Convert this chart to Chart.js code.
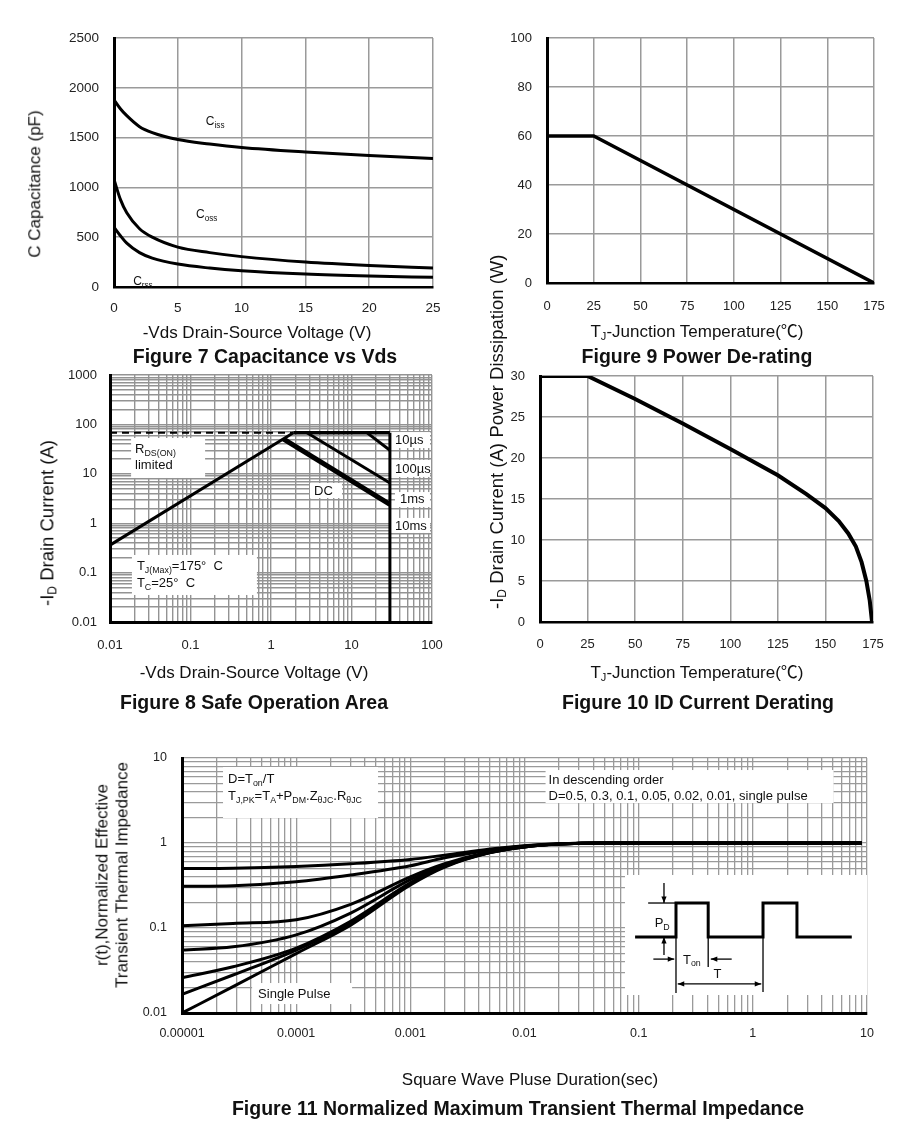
<!DOCTYPE html>
<html>
<head>
<meta charset="utf-8">
<script src="https://cdn.jsdelivr.net/npm/chart.js@4.4.1/dist/chart.umd.min.js"></script>
<style>
  body { margin: 0; background: #fff; }
  #page { position: relative; width: 904px; height: 1130px; overflow: hidden; background: #fff;
          font-family: "Liberation Sans", Arial, "Noto Sans CJK SC", sans-serif; color: #111; }
  canvas { position: absolute; }
  .t { position: absolute; white-space: nowrap; font-size: 17px; line-height: 1.15; transform: translate(-50%, -50%); }
  .v { transform: translate(-50%, -50%) rotate(-90deg); text-align: center; }
  .big { font-size: 18.5px; }
  .cap { font-weight: bold; font-size: 19.5px; }
  sub { font-size: 0.65em; vertical-align: -0.25em; line-height: 0; }
</style>
</head>
<body>
<div id="page"></div>
<script>
// ---- data: Figure 7 capacitance ----
const vds = [0, 0.5, 1, 2, 3, 5, 7.5, 10, 15, 20, 25];
const ciss = [1880, 1790, 1720, 1610, 1550, 1480, 1435, 1400, 1355, 1320, 1290];
const coss = [1080, 880, 745, 585, 500, 400, 345, 305, 250, 215, 190];
const crss = [600, 515, 440, 345, 290, 230, 190, 163, 130, 110, 97];

// ---- Figure 9 power de-rating ----
const tcPower = [0, 25, 175];
const pdPower = [60, 60, 0];

// ---- Figure 10 current de-rating ----
const tcCurrent = [0, 25, 50, 75, 100, 125, 140, 150, 157, 162, 166, 169, 171.5, 173.3, 174.5];
const idCurrent = [30, 30, 27.2, 24.2, 21.1, 17.9, 15.6, 13.9, 12.3, 10.8, 9.2, 7.3, 5.0, 2.6, 0];

// ---- Figure 8 safe operating area ----
const rdsV = [0.01, 1.9];
const rdsI = [0.36, 68];
const limitV = [0.01, 1.9];
const limitI = [68, 68];
const topV = [1.9, 30];
const topI = [68, 68];
const us10V = [15.5, 30];
const us10I = [68, 30];
const us100V = [2.8, 30];
const us100I = [68, 6.5];
const dcV = [1.42, 30];
const dcI = [51, 2.4];
const vmaxV = [30, 30];
const vmaxI = [0.01, 68];
const soaXLabels = ['0.01', '0.1', '1', '10', '100'];
const soaYLabels = ['0.01', '0.1', '1', '10', '100', '1000'];

// ---- Figure 11 transient thermal impedance ----
const pulseTime = [1e-5, 2.8e-5, 1e-4, 3e-4, 1e-3, 2e-3, 5e-3, 0.01, 0.02, 0.05, 9];
const zD50 = [0.50, 0.505, 0.53, 0.57, 0.64, 0.72, 0.85, 0.93, 0.98, 1.0, 1.0];
const zD30 = [0.31, 0.315, 0.35, 0.42, 0.54, 0.67, 0.82, 0.92, 0.98, 1.0, 1.0];
const zD10 = [0.106, 0.113, 0.125, 0.19, 0.40, 0.57, 0.79, 0.91, 0.97, 1.0, 1.0];
const zD05 = [0.055, 0.06, 0.083, 0.15, 0.37, 0.55, 0.78, 0.91, 0.97, 1.0, 1.0];
const zD02 = [0.026, 0.035, 0.058, 0.12, 0.34, 0.54, 0.78, 0.90, 0.97, 1.0, 1.0];
const zD01 = [0.0166, 0.028, 0.055, 0.114, 0.33, 0.53, 0.77, 0.90, 0.97, 1.0, 1.0];
const zSingle = [0.0100, 0.0204, 0.05, 0.108, 0.32, 0.52, 0.77, 0.90, 0.97, 1.0, 1.0];
const zthXLabels = ['0.00001', '0.0001', '0.001', '0.01', '0.1', '1', '10'];
const zthYLabels = ['0.01', '0.1', '1', '10'];

// inset waveform (time in periods, level in PD)
const waveT = [-0.47, 0, 0.37, 1, 1.39, 2.02];
const waveP = [0, 1, 0, 1, 0, 0];

const page = document.getElementById('page');
const FONT = '"Liberation Sans", Arial, sans-serif';
Chart.defaults.font.family = FONT;
Chart.defaults.color = '#222';

function makeCanvas(box) {
  const c = document.createElement('canvas');
  c.width = box[2]; c.height = box[3];
  c.style.left = box[0] + 'px'; c.style.top = box[1] + 'px';
  c.style.width = box[2] + 'px'; c.style.height = box[3] + 'px';
  page.appendChild(c);
  return c;
}

function text(html, x, y, cls) {
  const d = document.createElement('div');
  d.className = 't ' + (cls || '');
  d.style.left = x + 'px'; d.style.top = y + 'px';
  d.innerHTML = html;
  page.appendChild(d);
}

function decadeTicks(minExp, maxExp) {
  const t = [];
  for (let e = minExp; e < maxExp; e++)
    for (let m = 1; m < 10; m++) t.push({ value: parseFloat((m * Math.pow(10, e)).toPrecision(6)) });
  t.push({ value: parseFloat(Math.pow(10, maxExp).toPrecision(6)) });
  return t;
}

function axis(o) {
  const a = {
    type: o.type || 'linear', min: o.min, max: o.max,
    ticks: { padding: o.pad, font: { size: o.font || 13 }, color: '#222', autoSkip: false,
             maxRotation: 0, minRotation: 0, callback: v => v },
    grid: { color: o.grid || '#9a9a9a', lineWidth: o.gw || 1.5, drawTicks: false },
    border: { color: '#000', width: o.bw || 3 },
    afterFit: s => {
      if (s.isHorizontal()) s.height = o.size; else s.width = o.size;
      // the plot area is set by the layout padding, not by label overhang
      s.paddingLeft = s.paddingRight = s.paddingTop = s.paddingBottom = 0;
    }
  };
  if (o.step) a.ticks.stepSize = o.step;
  if (a.type === 'logarithmic') {
    a.afterBuildTicks = s => { s.ticks = decadeTicks(o.minExp, o.maxExp); };
    a.ticks.callback = v => {
      const e = Math.log10(v), r = Math.round(e);
      return Math.abs(e - r) < 1e-9 ? o.labels[r - o.minExp] : '';
    };
  }
  return a;
}

function series(xs, ys, w, extra) {
  return Object.assign({
    data: xs.map((x, i) => ({ x, y: ys[i] })),
    borderColor: '#000', borderWidth: w, pointRadius: 0, fill: false, tension: 0
  }, extra || {});
}

function drawParts(ctx, x, y, parts, size) {
  let cx = x;
  parts.forEach((t, i) => {
    const sub = i % 2 === 1;
    ctx.font = (sub ? size * 0.68 : size) + 'px ' + FONT;
    ctx.fillText(t, cx, sub ? y + size * 0.22 : y);
    cx += ctx.measureText(t).width;
  });
}

// text notes in data coordinates, optional white box (px offsets from anchor)
function notes(items) {
  const at = (chart, it) => [chart.scales.x.getPixelForValue(it.x), chart.scales.y.getPixelForValue(it.y)];
  return {
    id: 'notes',
    beforeDatasetsDraw(chart) {
      const ctx = chart.ctx;
      items.forEach(it => {
        if (!it.box) return;
        const [px, py] = at(chart, it);
        ctx.save();
        ctx.fillStyle = '#fff';
        ctx.fillRect(px + it.box[0], py + it.box[1], it.box[2] - it.box[0], it.box[3] - it.box[1]);
        ctx.restore();
      });
    },
    afterDatasetsDraw(chart) {
      const ctx = chart.ctx;
      items.forEach(it => {
        const [px, py] = at(chart, it);
        const size = it.size || 13;
        ctx.save();
        ctx.fillStyle = '#111';
        ctx.textBaseline = 'alphabetic';
        it.lines.forEach((parts, k) => drawParts(ctx, px, py + k * (it.lead || size * 1.3), parts, size));
        ctx.restore();
      });
    }
  };
}

function plot(box, area, datasets, xo, yo, extra) {
  xo.size = box[1] + box[3] - area[3];
  yo.size = area[0] - box[0];
  return new Chart(makeCanvas(box), {
    type: 'line',
    data: { datasets },
    options: {
      responsive: false, animation: false,
      layout: { padding: { left: 0, top: area[1] - box[1], right: box[0] + box[2] - area[2], bottom: 0 } },
      plugins: { legend: { display: false }, tooltip: { enabled: false } },
      scales: { x: axis(xo), y: axis(yo) }
    },
    plugins: extra || []
  });
}

// ---- Figure 7 ----
plot([0, 0, 450, 370], [114, 38, 433, 287],
  [series(vds, ciss, 3, { tension: 0.4, cubicInterpolationMode: 'monotone' }),
   series(vds, coss, 3, { tension: 0.4, cubicInterpolationMode: 'monotone' }),
   series(vds, crss, 3, { tension: 0.4, cubicInterpolationMode: 'monotone' })],
  { min: 0, max: 25, step: 5, pad: 13, font: 13.5, bw: 2.5 },
  { min: 0, max: 2500, step: 500, pad: 15, font: 13.5, bw: 3 },
  [notes([
    { x: 7.2, y: 1627, lines: [['C', 'iss']], size: 12 },
    { x: 6.43, y: 692, lines: [['C', 'oss']], size: 12 },
    { x: 1.5, y: 20, lines: [['C', 'rss']], size: 12 }
  ])]);

// ---- Figure 9 ----
plot([450, 0, 454, 370], [547, 38, 874, 283],
  [series(tcPower, pdPower, 3.5)],
  { min: 0, max: 175, step: 25, pad: 16, bw: 2.5 },
  { min: 0, max: 100, step: 20, pad: 15, bw: 3 });

// ---- Figure 8 ----
plot([0, 360, 450, 360], [110, 375, 432, 622],
  [series(limitV, limitI, 2, { borderDash: [7, 5] }),
   series(rdsV, rdsI, 3),
   series(topV, topI, 3.5),
   series(us10V, us10I, 3),
   series(us100V, us100I, 3),
   series(dcV, dcI, 5),
   series(vmaxV, vmaxI, 3)],
  { type: 'logarithmic', min: 0.01, max: 100, minExp: -2, maxExp: 2, labels: soaXLabels,
    pad: 16, grid: '#939393', gw: 1.4, bw: 3 },
  { type: 'logarithmic', min: 0.01, max: 1000, minExp: -2, maxExp: 3, labels: soaYLabels,
    pad: 13, grid: '#939393', gw: 1.4, bw: 3 },
  [notes([
    { x: 0.0205, y: 26.4, lines: [['R', 'DS(ON)'], ['limited']], lead: 16, box: [-4, -15, 70, 25] },
    { x: 34.7, y: 40, lines: [['10µs']], box: [-5, -12, 35, 4] },
    { x: 34.7, y: 10.4, lines: [['100µs']], box: [-5, -13, 35, 4] },
    { x: 40, y: 2.56, lines: [['1ms']], box: [-5, -11, 30, 4] },
    { x: 34.7, y: 0.73, lines: [['10ms']], box: [-5, -12, 35, 3] },
    { x: 3.42, y: 3.72, lines: [['DC']], box: [-4, -12, 28, 3] },
    { x: 0.0216, y: 0.113, lines: [['T', 'J(Max)', '=175°  C'], ['T', 'C', '=25°  C']], lead: 17,
      box: [-5, -15, 120, 25] }
  ])]);

// ---- Figure 10 ----
plot([450, 360, 454, 360], [540, 376, 873, 622],
  [series(tcCurrent, idCurrent, 4)],
  { min: 0, max: 175, step: 25, pad: 15, bw: 2.5 },
  { min: 0, max: 30, step: 5, pad: 15, bw: 3 });

// ---- Figure 11 ----
const curve = { tension: 0.4, cubicInterpolationMode: 'monotone' };
plot([0, 740, 904, 390], [182, 758, 867, 1013],
  [series(pulseTime, zD50, 3, curve), series(pulseTime, zD30, 3, curve),
   series(pulseTime, zD10, 3, curve), series(pulseTime, zD05, 3, curve),
   series(pulseTime, zD02, 3, curve), series(pulseTime, zD01, 3, curve),
   series(pulseTime, zSingle, 3, curve)],
  { type: 'logarithmic', min: 1e-5, max: 10, minExp: -5, maxExp: 1, labels: zthXLabels,
    pad: 13, font: 12.5, grid: '#9a9a9a', gw: 1.3, bw: 3 },
  { type: 'logarithmic', min: 0.01, max: 10, minExp: -2, maxExp: 1, labels: zthYLabels,
    pad: 15, font: 12.5, grid: '#9a9a9a', gw: 1.3, bw: 3 },
  [notes([
    { x: 2.53e-5, y: 5.08, lines: [['D=T', 'on', '/T'], ['T', 'J,PK', '=T', 'A', '+P', 'DM', '.Z', 'θJC', '.R', 'θJC']],
      lead: 17, box: [-5, -16, 150, 35] },
    { x: 0.01625, y: 4.94, lines: [['In descending order'], ['D=0.5, 0.3, 0.1, 0.05, 0.02, 0.01, single pulse']],
      lead: 16, box: [-3, -14, 285, 19] },
    { x: 4.64e-5, y: 0.015, lines: [['Single Pulse']], box: [-6, -15, 94, 6] }
  ])]);

// ---- Figure 11 inset: pulse train sketch ----
const insetMarks = {
  id: 'insetMarks',
  afterDatasetsDraw(chart) {
    const ctx = chart.ctx, sx = chart.scales.x, sy = chart.scales.y;
    const X = v => sx.getPixelForValue(v), Y = v => sy.getPixelForValue(v);
    const tip = (x, y, a) => {
      ctx.beginPath(); ctx.moveTo(x, y);
      ctx.lineTo(x - 7 * Math.cos(a - 0.38), y - 7 * Math.sin(a - 0.38));
      ctx.lineTo(x - 7 * Math.cos(a + 0.38), y - 7 * Math.sin(a + 0.38));
      ctx.closePath(); ctx.fill();
    };
    const seg = (t0, l0, t1, l1, head) => {
      const x0 = X(t0), y0 = Y(l0), x1 = X(t1), y1 = Y(l1);
      ctx.beginPath(); ctx.moveTo(x0, y0); ctx.lineTo(x1, y1); ctx.stroke();
      const a = Math.atan2(y1 - y0, x1 - x0);
      if (head) tip(x1, y1, a);
      if (head === 2) tip(x0, y0, a + Math.PI);
    };
    ctx.save();
    ctx.strokeStyle = '#000'; ctx.fillStyle = '#000'; ctx.lineWidth = 1.3;
    seg(-0.32, 1, 0, 1, 0);
    seg(-0.138, 1.59, -0.138, 1.0, 1);
    seg(-0.138, -0.53, -0.138, 0, 1);
    seg(-0.26, -0.65, -0.02, -0.65, 1);
    seg(0.64, -0.65, 0.40, -0.65, 1);
    seg(0, 0, 0, -1.65, 0);
    seg(0.37, 0, 0.37, -0.88, 0);
    seg(1, 0, 1, -1.62, 0);
    seg(0.02, -1.38, 0.98, -1.38, 2);
    ctx.fillStyle = '#111';
    drawParts(ctx, X(-0.245), Y(0.3), ['P', 'D'], 13);
    drawParts(ctx, X(0.08), Y(-0.78), ['T', 'on'], 13);
    drawParts(ctx, X(0.43), Y(-1.2), ['T'], 13);
    ctx.restore();
  }
};
const insetCanvas = makeCanvas([625, 875, 242, 120]);
insetCanvas.style.background = '#fff';
new Chart(insetCanvas, {
  type: 'line',
  data: { datasets: [series(waveT, waveP, 3, { stepped: true })] },
  options: {
    responsive: false, animation: false,
    layout: { padding: 0 },
    plugins: { legend: { display: false }, tooltip: { enabled: false } },
    scales: {
      x: { type: 'linear', display: false, min: -0.586, max: 2.195 },
      y: { type: 'linear', display: false, min: -1.706, max: 1.824 }
    }
  },
  plugins: [insetMarks]
});

// ---- axis titles and captions ----
text('C Capacitance (pF)', 35, 184, 'v');
text('-Vds Drain-Source Voltage (V)', 257, 333);
text('Figure 7 Capacitance vs Vds', 265, 356, 'cap');

text('Power Dissipation (W)', 497, 346, 'v big');
text('T<sub>J</sub>-Junction Temperature(℃)', 697, 332);
text('Figure 9 Power De-rating', 697, 356, 'cap');

text('-I<sub>D</sub> Drain Current (A)', 47, 523, 'v big');
text('-Vds Drain-Source Voltage (V)', 254, 673);
text('Figure 8 Safe Operation Area', 254, 702, 'cap');

text('-I<sub>D</sub> Drain Current (A)', 497, 526, 'v big');
text('T<sub>J</sub>-Junction Temperature(℃)', 697, 673);
text('Figure 10 ID Current Derating', 698, 702, 'cap');

text('r(t),Normalized Effective<br>Transient Thermal Impedance', 112, 875, 'v');
text('Square Wave Pluse Duration(sec)', 530, 1080);
text('Figure 11 Normalized Maximum Transient Thermal Impedance', 518, 1108, 'cap');
</script>
</body>
</html>
